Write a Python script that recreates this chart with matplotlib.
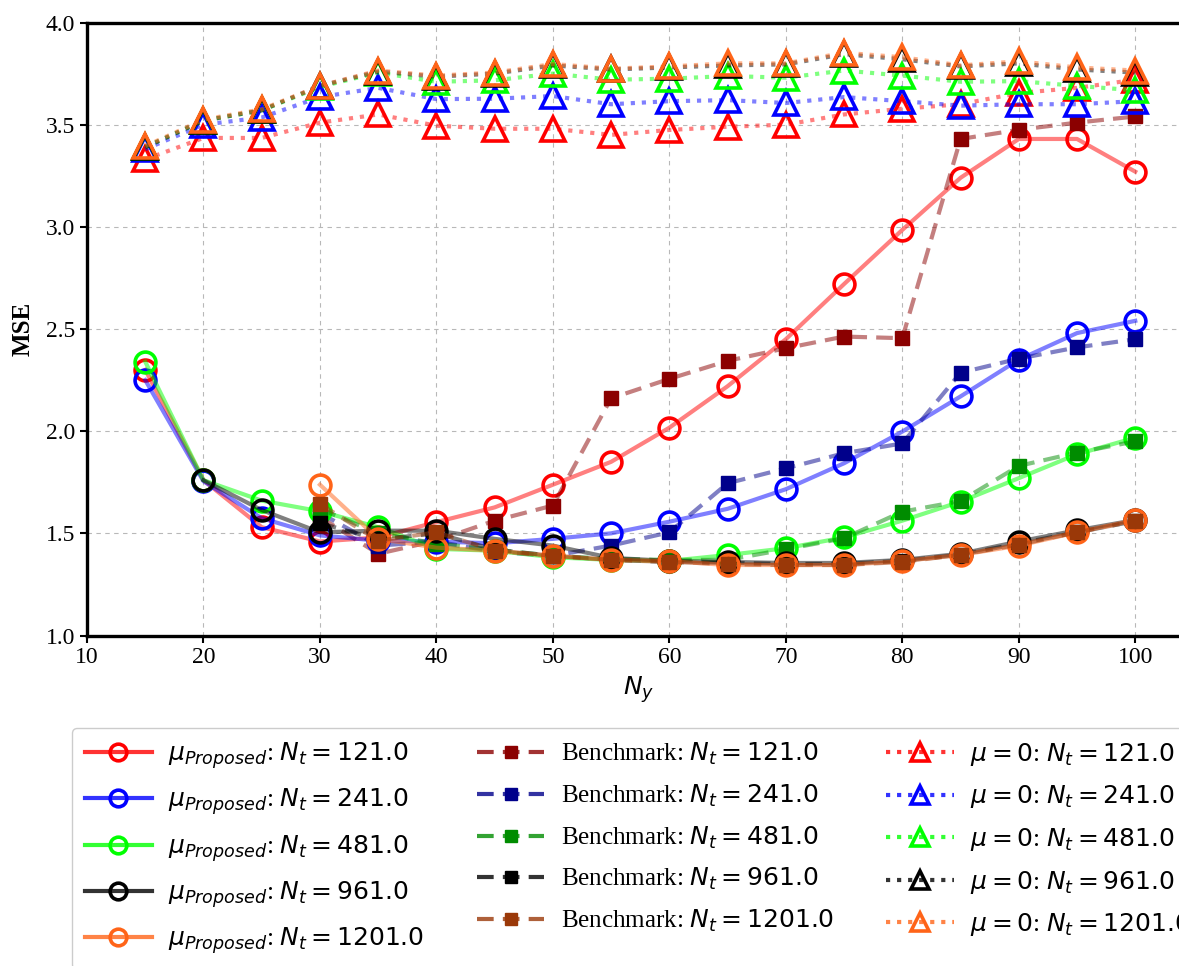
import matplotlib
matplotlib.use("Agg")
import matplotlib.pyplot as plt
from matplotlib.colors import to_rgba

plt.rcParams["font.family"] = "serif"
plt.rcParams["font.serif"] = ["Liberation Serif", "DejaVu Serif"]
plt.rcParams["mathtext.fontset"] = "dejavusans"

NT_VALUES = [121.0, 241.0, 481.0, 961.0, 1201.0]

NY_15 = [15, 20, 25, 30, 35, 40, 45, 50, 55, 60, 65, 70, 75, 80, 85, 90, 95, 100]
NY_20 = [20, 25, 30, 35, 40, 45, 50, 55, 60, 65, 70, 75, 80, 85, 90, 95, 100]
NY_30 = [30, 35, 40, 45, 50, 55, 60, 65, 70, 75, 80, 85, 90, 95, 100]

# MSE with the proposed mu
prop_121 = [2.30, 1.76, 1.53, 1.46, 1.48, 1.555, 1.627, 1.738, 1.85, 2.017, 2.22, 2.45,
            2.72, 2.985, 3.24, 3.43, 3.43, 3.27]
prop_241 = [2.25, 1.755, 1.574, 1.49, 1.464, 1.46, 1.451, 1.473, 1.50, 1.557, 1.62, 1.716,
            1.843, 1.998, 2.17, 2.35, 2.48, 2.54]
prop_481 = [2.34, 1.76, 1.66, 1.608, 1.53, 1.424, 1.415, 1.383, 1.37, 1.365, 1.394, 1.427,
            1.48, 1.562, 1.655, 1.77, 1.887, 1.968]
prop_961 = [1.76, 1.614, 1.505, 1.513, 1.513, 1.473, 1.44, 1.38, 1.365, 1.36, 1.355, 1.355,
            1.37, 1.40, 1.46, 1.515, 1.565]
prop_1201 = [1.738, 1.473, 1.43, 1.415, 1.39, 1.37, 1.364, 1.345, 1.345, 1.345, 1.364, 1.394,
             1.44, 1.505, 1.565]

# benchmark
bench_121 = [1.58, 1.40, 1.464, 1.562, 1.636, 2.161, 2.256, 2.344, 2.406, 2.463, 2.455, 3.43,
             3.475, 3.51, 3.54]
bench_241 = [1.60, 1.44, 1.46, 1.41, 1.39, 1.44, 1.505, 1.745, 1.818, 1.892, 1.94, 2.286,
             2.355, 2.41, 2.45]
bench_481 = [1.62, 1.50, 1.45, 1.42, 1.39, 1.375, 1.37, 1.37, 1.422, 1.476, 1.606, 1.658,
             1.83, 1.895, 1.95]
bench_961 = [1.55, 1.47, 1.50, 1.42, 1.39, 1.37, 1.36, 1.355, 1.35, 1.35, 1.365, 1.395,
             1.45, 1.505, 1.56]
bench_1201 = [1.644, 1.464, 1.505, 1.415, 1.39, 1.37, 1.36, 1.35, 1.345, 1.345, 1.36, 1.395,
              1.445, 1.505, 1.56]

# mu = 0
mu0_121 = [3.33, 3.435, 3.435, 3.51, 3.55, 3.495, 3.48, 3.48, 3.45, 3.474, 3.49, 3.50,
           3.55, 3.578, 3.60, 3.655, 3.68, 3.72]
mu0_241 = [3.38, 3.50, 3.535, 3.635, 3.68, 3.625, 3.627, 3.64, 3.60, 3.615, 3.62, 3.606,
           3.635, 3.615, 3.593, 3.60, 3.60, 3.615]
mu0_481 = [3.39, 3.52, 3.57, 3.685, 3.755, 3.71, 3.717, 3.75, 3.72, 3.725, 3.738, 3.73,
           3.765, 3.74, 3.71, 3.713, 3.69, 3.668]
mu0_961 = [3.39, 3.52, 3.57, 3.69, 3.76, 3.735, 3.75, 3.79, 3.77, 3.78, 3.79, 3.795,
           3.845, 3.82, 3.785, 3.80, 3.77, 3.755]
mu0_1201 = [3.395, 3.525, 3.575, 3.69, 3.765, 3.74, 3.755, 3.797, 3.774, 3.785, 3.80, 3.80,
            3.852, 3.83, 3.79, 3.81, 3.78, 3.765]

PROPOSED = [(NY_15, prop_121), (NY_15, prop_241), (NY_15, prop_481),
            (NY_20, prop_961), (NY_30, prop_1201)]
BENCH = [bench_121, bench_241, bench_481, bench_961, bench_1201]
MU0 = [mu0_121, mu0_241, mu0_481, mu0_961, mu0_1201]

PROP_COLORS = ["red", "blue", "lime", "black", "#ff6418"]
BENCH_COLORS = ["darkred", "darkblue", "#008c00", "black", "#9a3808"]
LINE_ALPHA = 0.5
LEGEND_ALPHA = 0.8


def main():
    fig = plt.figure(figsize=(11.79, 9.66), dpi=100)
    # axes runs a little past the right edge of the canvas
    ax = fig.add_axes([87 / 1179, 330.5 / 966, 1103 / 1179, 613 / 966])

    h_prop, h_bench, h_mu0 = [], [], []
    for i, nt in enumerate(NT_VALUES):
        ny, vals = PROPOSED[i]
        c = PROP_COLORS[i]
        (lp,) = ax.plot(ny, vals, ls="-", lw=3, color=to_rgba(c, LINE_ALPHA),
                        marker="o", ms=15, mfc="none", mec=c, mew=2.6,
                        label=rf"$\mu_{{Proposed}}$: $N_t = {nt:.1f}$")
        cb = BENCH_COLORS[i]
        (lb,) = ax.plot(NY_30, BENCH[i], ls=(0, (4, 2.2)), lw=3,
                        color=to_rgba(cb, LINE_ALPHA), marker="s", ms=10,
                        mfc=cb, mec=cb, label=rf"Benchmark: $N_t = {nt:.1f}$")
        (lm,) = ax.plot(NY_15, MU0[i], ls=":", lw=3, color=to_rgba(c, LINE_ALPHA),
                        marker="^", ms=17, mfc="none", mec=c, mew=2.6,
                        label=rf"$\mu = 0$: $N_t = {nt:.1f}$")
        h_prop.append(lp)
        h_bench.append(lb)
        h_mu0.append(lm)

    ax.set_xlim(10, 104.7)
    ax.set_ylim(1.0, 4.0)
    ax.set_xticks(range(10, 101, 10))
    ax.set_yticks([1.0, 1.5, 2.0, 2.5, 3.0, 3.5, 4.0])
    ax.tick_params(labelsize=17, width=1.5, length=5)
    ax.grid(True, ls=(0, (4, 4)), lw=0.8, color="#b8b8b8")
    for side in ax.spines.values():
        side.set_linewidth(2.4)
    ax.spines["right"].set_visible(False)

    ax.set_xlabel(r"$N_y$", fontsize=18, labelpad=4)
    ax.set_ylabel("MSE", fontsize=18, fontweight="bold", labelpad=8)

    handles = h_prop + h_bench + h_mu0
    leg = fig.legend(handles, [h.get_label() for h in handles], loc="upper left",
                     bbox_to_anchor=(72 / 1179, 1 - 728 / 966), borderaxespad=0,
                     ncol=3, fontsize=18, handlelength=2.7, handletextpad=0.65,
                     columnspacing=2.1, labelspacing=0.62, markerscale=0.8,
                     borderpad=0.5, edgecolor="#cccccc", framealpha=1.0)
    # legend strokes are drawn a bit stronger than the plotted lines
    colors = PROP_COLORS + BENCH_COLORS + PROP_COLORS
    for line, c in zip(leg.get_lines(), colors):
        line.set_color(to_rgba(c, LEGEND_ALPHA))

    fig.savefig("out.png", dpi=100)
    plt.close(fig)


if __name__ == "__main__":
    main()
